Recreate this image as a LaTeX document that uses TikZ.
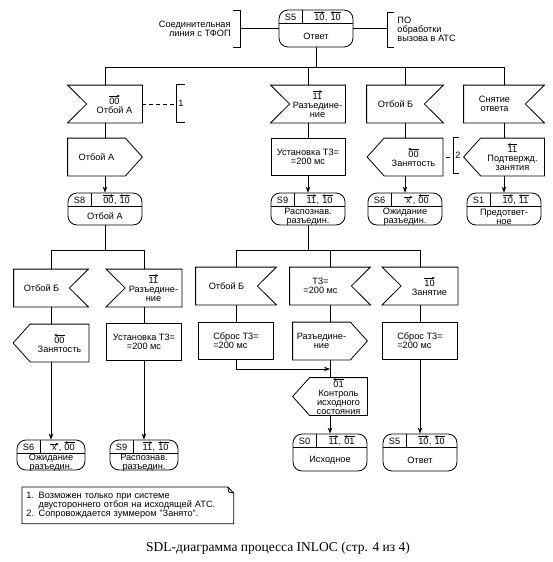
\documentclass[tikz,border=0pt]{standalone}
\usepackage{fontspec}
\setmainfont{Liberation Sans}
\newfontfamily\captionfont{Liberation Serif}
\usetikzlibrary{arrows.meta}
\tikzstyle{txt} = [font=\fontsize{9.2}{9}\selectfont, align=center, inner sep=0pt]
\tikzstyle{box} = [rectangle, minimum height=37pt, inner sep=0pt]
\tikzstyle{task} = [rectangle, draw, txt, minimum width=75pt, minimum height=37pt]
\tikzstyle{state} = [rectangle, draw, rounded corners=9pt, minimum width=74pt, inner sep=0pt]
\tikzstyle{note} = [rectangle, txt, align=left, minimum width=211pt, minimum height=36pt, inner xsep=4pt, text width=203pt]
\tikzstyle{arrow} = [->, >={Stealth[length=6pt,width=4.5pt]}]
\tikzstyle{code} = [rectangle, inner sep=0pt, minimum width=8pt]
\tikzstyle{codearrow} = [line width=0.5pt, -{Stealth[length=3pt,width=2.6pt]}]
\newcommand{\fwd}[1]{\tikz[baseline=(cd.base)]{\node (cd) [code] {#1}; \draw[codearrow] ([yshift=1.6pt]cd.north west) -- ([yshift=1.6pt]cd.north east);}}
\newcommand{\bwd}[1]{\tikz[baseline=(cd.base)]{\node (cd) [code] {#1}; \draw[codearrow] ([yshift=1.6pt]cd.north east) -- ([yshift=1.6pt]cd.north west);}}
\newcommand{\inleft}[4]{%
  \node (#1) [box, minimum width=#3] at #2 {};
  \draw (#1.north west) -- (#1.north east) -- (#1.south east) -- (#1.south west) -- ([xshift=19pt]#1.west) -- cycle;
  \node (#1-t) [txt] at ([xshift=9.5pt]#1.center) {#4};}
\newcommand{\inright}[4]{%
  \node (#1) [box, minimum width=#3] at #2 {};
  \draw (#1.north west) -- (#1.north east) -- ([xshift=-19pt]#1.east) -- (#1.south east) -- (#1.south west) -- cycle;
  \node (#1-t) [txt] at ([xshift=-9.5pt]#1.center) {#4};}
\newcommand{\outright}[4]{%
  \node (#1) [box, minimum width=#3] at #2 {};
  \draw (#1.north west) -- ([xshift=-17pt]#1.north east) -- (#1.east) -- ([xshift=-17pt]#1.south east) -- (#1.south west) -- cycle;
  \node (#1-t) [txt] at ([xshift=-8.5pt]#1.center) {#4};}
\newcommand{\outleft}[4]{%
  \node (#1) [box, minimum width=#3] at #2 {};
  \draw ([xshift=17pt]#1.north west) -- (#1.north east) -- (#1.south east) -- ([xshift=17pt]#1.south west) -- (#1.west) -- cycle;
  \node (#1-t) [txt] at ([xshift=8.5pt]#1.center) {#4};}
\newcommand{\statebox}[7][32pt]{%
  \node (#2) [state, minimum width=#4, minimum height=#1] at #3 {};
  \draw ([yshift=-14pt]#2.north west) -- ([yshift=-14pt]#2.north east);
  \draw ([xshift=24pt]#2.north west) -- ([xshift=24pt,yshift=-14pt]#2.north west);
  \node (#2-s) [txt] at ([xshift=12pt,yshift=-7.5pt]#2.north west) {#5};
  \node (#2-c) [txt] at ([xshift=12pt+#4/2,yshift=-7pt]#2.north west) {#6};
  \node (#2-t) [txt] at ([yshift=-7.5pt]#2.center) {#7};}
\begin{document}
\begin{tikzpicture}[x=1pt, y=-1pt, line width=0.8pt]
\useasboundingbox (0,0) rectangle (553,562);

\statebox[37pt]{s5t}{(316,28.5)}{74pt}{S5}{\fwd{10}, \bwd{10}}{Ответ}
\coordinate (brl) at (240,28.5);
\coordinate (brr) at (387,28.5);
\draw (s5t.west) -- (brl);
\draw (s5t.east) -- (brr);
\draw (233,10) -- (240,10) -- (240,47) -- (233,47);
\draw (394,12) -- (387,12) -- (387,47) -- (394,47);
\node (line) [txt, align=right, anchor=east] at (231,28.5) {Соединительная\\линия с ТФОП};
\node (po) [txt, align=left, anchor=west] at (397,29) {ПО\\обработки\\вызова в АТС};

\inleft{inA}{(105,104)}{74pt}{\fwd{00}\\Отбой А}
\outright{outA}{(105,157)}{74pt}{Отбой А}
\statebox{s8}{(105,209)}{74pt}{S8}{\fwd{00}, \bwd{10}}{Отбой А}
\coordinate (n1) at (176,104);
\draw[dash pattern=on 4pt off 3pt] (inA.east) -- (n1);
\draw (185,84) -- (176,84) -- (176,122) -- (185,122);
\node (n1t) [txt] at (181,103) {1};

\inleft{inR}{(308,104)}{74pt}{\fwd{11}\\Разъедине-\\ние}
\node (taskR) [task, minimum width=74pt] at (308,157) {Установка Т3=\\=200 мс};
\statebox{s9a}{(308,209)}{74pt}{S9}{\fwd{11}, \bwd{10}}{Распознав.\\разъедин.}

\inright{inB}{(405,104)}{76pt}{Отбой Б}
\outleft{outB}{(405,157)}{75pt}{\bwd{00}\\Занятость}
\statebox{s6a}{(405,209)}{74pt}{S6}{\fwd{x}, \bwd{00}}{Ожидание\\разъедин.}
\coordinate (n2) at (453,157);
\draw[dash pattern=on 4pt off 3pt, dash phase=-3pt] (outB.east) -- (n2);
\draw (459,137) -- (453,137) -- (453,173) -- (459,173);
\node (n2t) [txt] at (458,155) {2};

\inright{inC}{(504,104)}{80pt}{Снятие\\ответа}
\outleft{outC}{(504,157)}{80pt}{\bwd{11}\\Подтвержд.\\занятия}
\statebox{s1}{(504,209)}{74pt}{S1}{\fwd{10}, \bwd{11}}{Предответ-\\ное}

\coordinate (bus) at (316,67);
\draw (s5t.south) -- (bus);
\draw (inA.north |- bus) -- (inC.north |- bus);
\draw (inA.north) -- (inA.north |- bus);
\draw (inR.north) -- (inR.north |- bus);
\draw (inB.north) -- (inB.north |- bus);
\draw (inC.north) -- (inC.north |- bus);
\draw (inA.south) -- (outA.north);
\draw[arrow] (outA.south) -- (s8.north);
\draw (inR.south) -- (taskR.north);
\draw[arrow] (taskR.south) -- (s9a.north);
\draw (inB.south) -- (outB.north);
\draw[arrow] (outB.south) -- (s6a.north);
\draw (inC.south) -- (outC.north);
\draw[arrow] (outC.south) -- (s1.north);

\inright{inL1}{(51,288)}{74pt}{Отбой Б}
\outleft{outL1}{(51,343)}{75pt}{\bwd{00}\\Занятость}
\statebox[30pt]{s6b}{(51,455)}{68pt}{S6}{\fwd{x}, \bwd{00}}{Ожидание\\разъедин.}
\inleft{inL2}{(144,288)}{75pt}{\fwd{11}\\Разъедине-\\ние}
\node (taskL2) [task] at (144,342) {Установка Т3=\\=200 мс};
\statebox[30pt]{s9b}{(144,455)}{68pt}{S9}{\fwd{11}, \bwd{10}}{Распознав.\\разъедин.}

\coordinate (busL) at (105,250);
\draw (s8.south) -- (busL);
\draw (inL1.north |- busL) -- (inL2.north |- busL);
\draw (inL1.north) -- (inL1.north |- busL);
\draw (inL2.north) -- (inL2.north |- busL);
\draw (inL1.south) -- (outL1.north);
\draw[arrow] (outL1.south) -- (s6b.north);
\draw (inL2.south) -- (taskL2.north);
\draw[arrow] (taskL2.south) -- (s9b.north);

\inright{inM1}{(236,286)}{80pt}{Отбой Б}
\node (taskM1) [task, align=left] at (236,341) {Сброс Т3=\\=200 мс};
\inright{inM2}{(330,286)}{80pt}{Т3=\\=200 мс}
\outright{outM2}{(330,341)}{74pt}{Разъедине-\\ние}
\outleft{outM3}{(330,396.5)}{74pt}{\fontsize{9.2}{8.4}\selectfont\bwd{01}\\Контроль\\исходного\\состояния}
\statebox[37pt]{s0}{(330,452.5)}{74pt}{S0}{\fwd{11}, \bwd{01}}{Исходное}
\inleft{inM3}{(420,286)}{75pt}{\fwd{10}\\Занятие}
\node (taskM3) [task, align=left] at (420,341) {Сброс Т3=\\=200 мс};
\statebox[37pt]{s5b}{(420,452.5)}{74pt}{S5}{\fwd{10}, \bwd{10}}{Ответ}

\coordinate (busM) at (308,250);
\coordinate (j1) at (330,369);
\draw (s9a.south) -- (busM);
\draw (inM1.north |- busM) -- (inM3.north |- busM);
\draw (inM1.north) -- (inM1.north |- busM);
\draw (inM2.north) -- (inM2.north |- busM);
\draw (inM3.north) -- (inM3.north |- busM);
\draw (inM1.south) -- (taskM1.north);
\draw[arrow] (taskM1.south) |- (j1);
\draw (inM2.south) -- (outM2.north);
\draw (outM2.south) -- (outM3.north);
\draw[arrow] (outM3.south) -- (s0.north);
\draw (inM3.south) -- (taskM3.north);
\draw[arrow] (taskM3.south) -- (s5b.north);

\node (notes) [note, anchor=north west] at (22,487) {1. Возможен только при системе\\\phantom{1. }двустороннего отбоя на исходящей АТС.\\2. Сопровождается зуммером "Занято".};
\draw ([xshift=-6pt]notes.north east) -- ([yshift=-6pt]notes.north east) -- (notes.south east) -- (notes.south west) -- (notes.north west) -- cycle;
\draw ([xshift=-6pt]notes.north east) -- ([xshift=-5pt,yshift=-5pt]notes.north east) -- ([yshift=-6pt]notes.north east);
\node (cap) [font=\captionfont\fontsize{13.5}{16}\selectfont] at (278,548) {SDL-диаграмма процесса INLOC (стр. 4 из 4)};
\end{tikzpicture}
\end{document}
